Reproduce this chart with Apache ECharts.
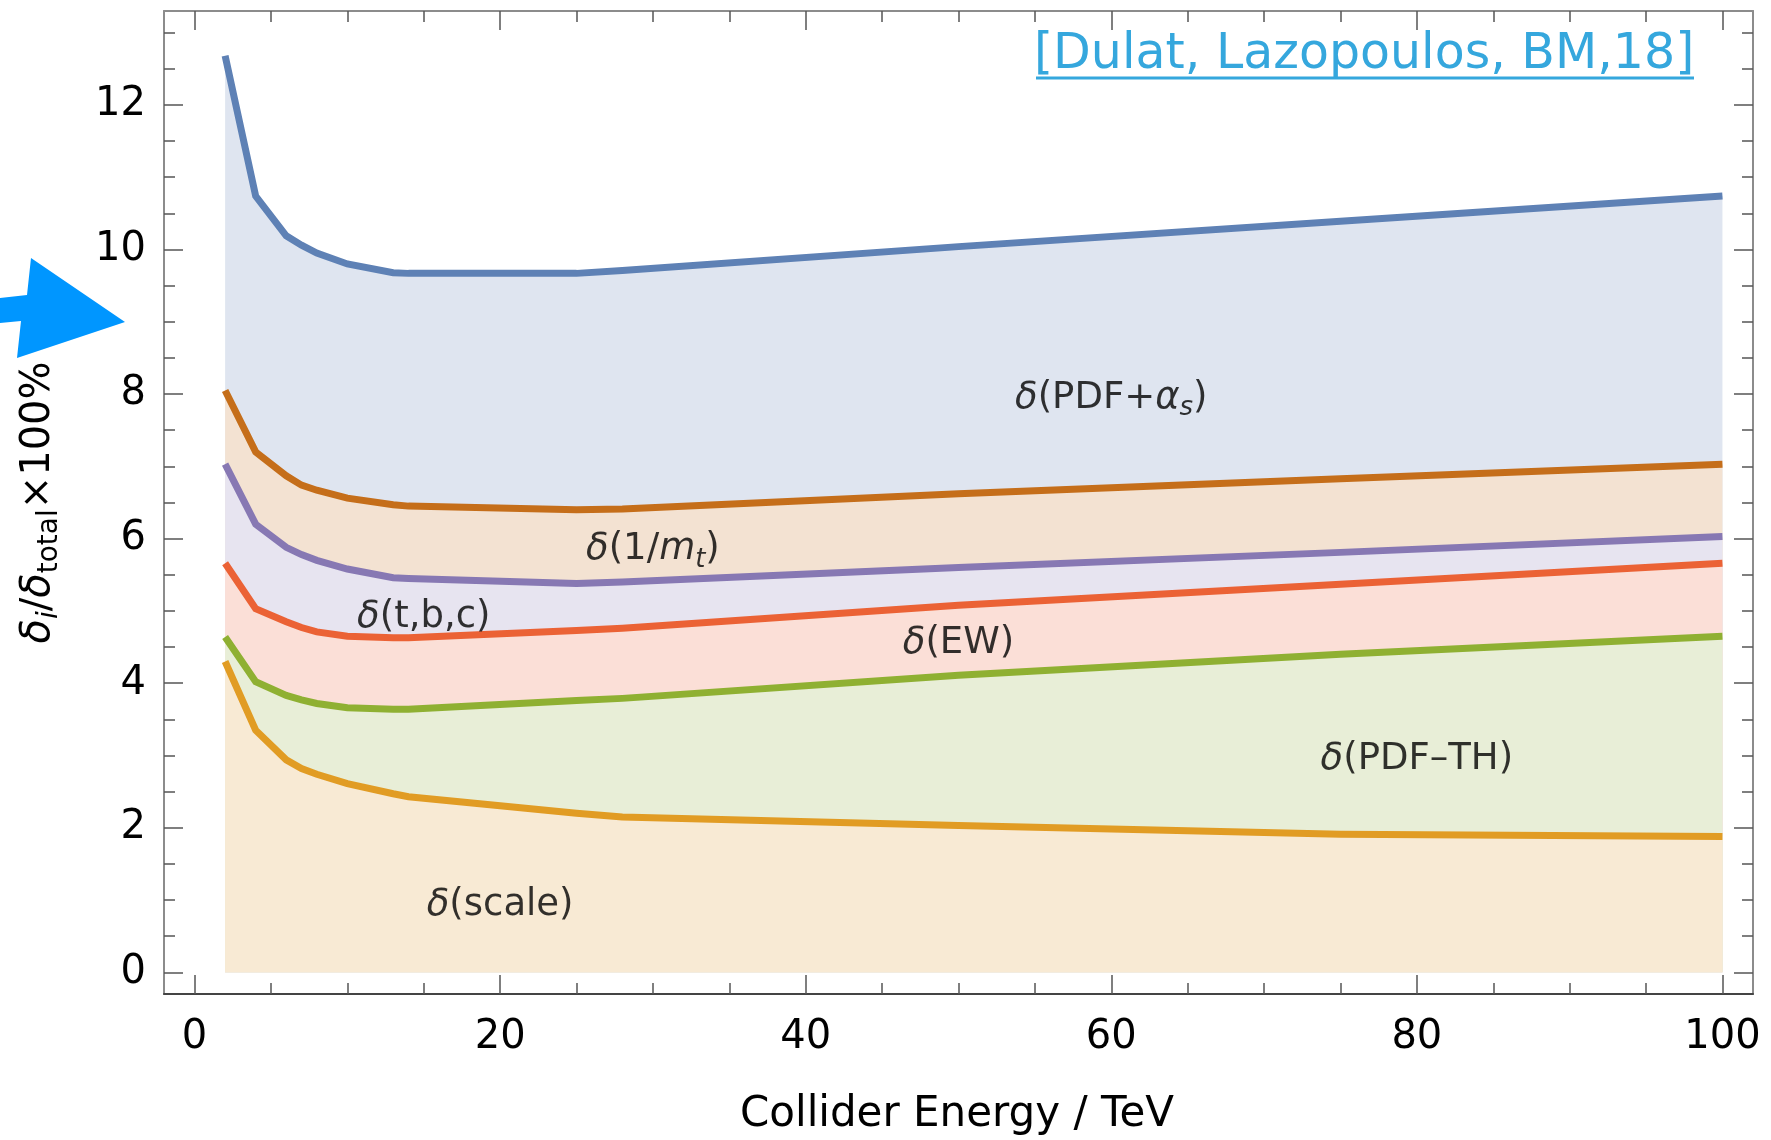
<!DOCTYPE html>
<html>
<head>
<meta charset="utf-8">
<script src="https://cdn.jsdelivr.net/npm/echarts@6/dist/echarts.min.js"></script>
<style>
  html, body { margin: 0; padding: 0; background: #fff; }
  #chart { width: 1771px; height: 1140px; }
</style>
</head>
<body>
<div id="chart"></div>
<script>
// collider energies (TeV) where the curves have nodes
const energy = [2, 4, 6, 7, 8, 10, 13, 14, 25, 28, 50, 75, 100];

// cumulative uncertainty curves (percent of total)
const scaleUnc = [4.30, 3.35, 2.94, 2.82, 2.74, 2.61, 2.47, 2.43, 2.20, 2.15, 2.03, 1.91, 1.88];
const pdfThUnc = [4.64, 4.02, 3.83, 3.77, 3.72, 3.66, 3.64, 3.64, 3.76, 3.79, 4.11, 4.40, 4.65];
const ewUnc    = [5.66, 5.03, 4.85, 4.77, 4.71, 4.65, 4.63, 4.63, 4.73, 4.76, 5.08, 5.37, 5.66];
const tbcUnc   = [7.03, 6.20, 5.88, 5.78, 5.70, 5.58, 5.46, 5.45, 5.38, 5.40, 5.60, 5.81, 6.03];
const invMtUnc = [8.05, 7.20, 6.87, 6.74, 6.67, 6.56, 6.47, 6.45, 6.40, 6.41, 6.62, 6.83, 7.03];
const pdfAsUnc = [12.68, 10.74, 10.19, 10.06, 9.95, 9.80, 9.68, 9.67, 9.67, 9.71, 10.04, 10.39, 10.74];

// tick labels
const xMajorTicks = [0, 20, 40, 60, 80, 100];
const xMinorTicks = [5, 10, 15, 25, 30, 35, 45, 50, 55, 65, 70, 75, 85, 90, 95];
const yMajorTicks = [0, 2, 4, 6, 8, 10, 12];
const yMinorTicks = [0.5, 1, 1.5, 2.5, 3, 3.5, 4.5, 5, 5.5, 6.5, 7, 7.5, 8.5, 9, 9.5, 10.5, 11, 11.5, 12.5, 13];

// band labels (anchored in data coordinates)
const labelText = [
  '{i|δ}(PDF+{i|α}{si|s})',
  '{i|δ}(1/{i|m}{si|t})',
  '{i|δ}(t,b,c)',
  '{i|δ}(EW)',
  '{i|δ}(PDF–TH)',
  '{i|δ}(scale)'
];
const labelX = [60, 30, 15, 50, 80, 20];
const labelY = [8.0, 5.9, 4.97, 4.6, 3.0, 0.98];

const FONT = 'DejaVu Sans';

const chart = echarts.init(document.getElementById('chart'));

function pairs(vals) {
  return energy.map((e, i) => [e, vals[i]]);
}

function band(name, vals, line, fill) {
  return {
    name: name,
    type: 'line',
    data: pairs(vals),
    showSymbol: false,
    symbol: 'none',
    lineStyle: { width: 7, color: line, cap: 'butt', join: 'miter' },
    areaStyle: { color: fill, opacity: 1 },
    silent: true
  };
}

const frameColor = '#8c8c8c';
const tickColor = '#555';

function xAxisDef(pos, ticks, len, withLine, withLabel) {
  return {
    type: 'value',
    position: pos,
    min: -2,
    max: 102,
    splitLine: { show: false },
    axisLine: { show: withLine, onZero: false, lineStyle: { color: pos === 'bottom' ? '#444' : frameColor, width: 2 } },
    axisTick: { show: true, inside: true, length: len, customValues: ticks, lineStyle: { color: tickColor, width: 1.5 } },
    axisLabel: withLabel ? {
      show: true, customValues: ticks, fontFamily: FONT, fontSize: 40, color: '#000', margin: 24
    } : { show: false }
  };
}

function yAxisDef(pos, ticks, len, withLine, withLabel) {
  return {
    type: 'value',
    position: pos,
    min: -0.3,
    max: 13.3,
    splitLine: { show: false },
    axisLine: { show: withLine, onZero: false, lineStyle: { color: frameColor, width: 2 } },
    axisTick: { show: true, inside: true, length: len, customValues: ticks, lineStyle: { color: tickColor, width: 1.5 } },
    axisLabel: withLabel ? {
      show: true, customValues: ticks, fontFamily: FONT, fontSize: 40, color: '#000', margin: 18,
      padding: [6, 0, 0, 0]
    } : { show: false }
  };
}

const xAxes = [
  xAxisDef('bottom', xMajorTicks, 19, true, true),
  xAxisDef('bottom', xMinorTicks, 11, false, false),
  xAxisDef('top', xMajorTicks, 19, true, false),
  xAxisDef('top', xMinorTicks, 11, false, false)
];

const yAxes = [
  yAxisDef('left', yMajorTicks, 19, true, true),
  yAxisDef('left', yMinorTicks, 11, false, false),
  yAxisDef('right', yMajorTicks, 19, true, false),
  yAxisDef('right', yMinorTicks, 11, false, false)
];
yAxes[0].name = '{i|δ}{si|i}/{i|δ}{s|total}×100%';
yAxes[0].nameLocation = 'middle';
yAxes[0].nameRotate = 90;
yAxes[0].nameGap = 100;
yAxes[0].nameTextStyle = {
  fontFamily: FONT, fontSize: 40, color: '#000', lineHeight: 50,
  rich: {
    i: { fontFamily: FONT, fontStyle: 'italic', fontSize: 40, lineHeight: 50, color: '#000' },
    si: { fontFamily: FONT, fontStyle: 'italic', fontSize: 28, lineHeight: 20, verticalAlign: 'bottom', color: '#000' },
    s: { fontFamily: FONT, fontSize: 28, lineHeight: 20, verticalAlign: 'bottom', color: '#000' }
  }
};

const option = {
  animation: false,
  backgroundColor: '#fff',
  grid: { left: 164, right: 18, top: 11, bottom: 146, containLabel: false, outerBoundsMode: 'none' },
  xAxis: xAxes,
  yAxis: yAxes,
  series: [
    band('δ(PDF+αs)', pdfAsUnc, '#5E81B5', '#DFE5F0'),
    band('δ(1/mt)', invMtUnc, '#C56E1A', '#F3E2D2'),
    band('δ(t,b,c)', tbcUnc, '#8778B3', '#E7E4F0'),
    band('δ(EW)', ewUnc, '#EB6235', '#FBDFD7'),
    band('δ(PDF-TH)', pdfThUnc, '#8FB032', '#E8EED7'),
    band('δ(scale)', scaleUnc, '#E19C24', '#F8EAD4'),
    {
      name: 'labels',
      type: 'scatter',
      symbolSize: 0,
      silent: true,
      z: 10,
      data: labelX.map((x, i) => ({ value: [x, labelY[i]], label: { formatter: labelText[i] } })),
      label: {
        show: true,
        position: 'inside',
        offset: [0, 4],
        fontFamily: FONT,
        fontSize: 37,
        color: '#000',
        textBorderWidth: 0,
        lineHeight: 46,
        rich: {
          i: { fontFamily: FONT, fontStyle: 'italic', fontSize: 37, lineHeight: 46, color: '#000' },
          si: { fontFamily: FONT, fontStyle: 'italic', fontSize: 26, lineHeight: 18, verticalAlign: 'bottom', color: '#000' }
        }
      }
    }
  ],
  graphic: [
    {
      type: 'polygon',
      shape: { points: [[0, 298], [27, 295], [31, 258], [125, 322], [17, 358], [21, 321], [0, 323]] },
      style: { fill: '#0096FF' },
      silent: true
    },
    {
      type: 'text',
      left: 1034,
      top: 31,
      style: {
        text: '[Dulat, Lazopoulos, BM,18]',
        font: '49px "DejaVu Sans"',
        fill: '#35A7DD'
      },
      silent: true
    },
    {
      type: 'line',
      shape: { x1: 1036, y1: 78, x2: 1694, y2: 78 },
      style: { stroke: '#35A7DD', lineWidth: 3 },
      silent: true
    },
    {
      type: 'text',
      x: 957,
      y: 1115,
      style: {
        text: 'Collider Energy / TeV',
        font: '42px "DejaVu Sans"',
        fill: '#000',
        align: 'center',
        verticalAlign: 'middle'
      },
      silent: true
    }
  ]
};

chart.setOption(option);
</script>
</body>
</html>
